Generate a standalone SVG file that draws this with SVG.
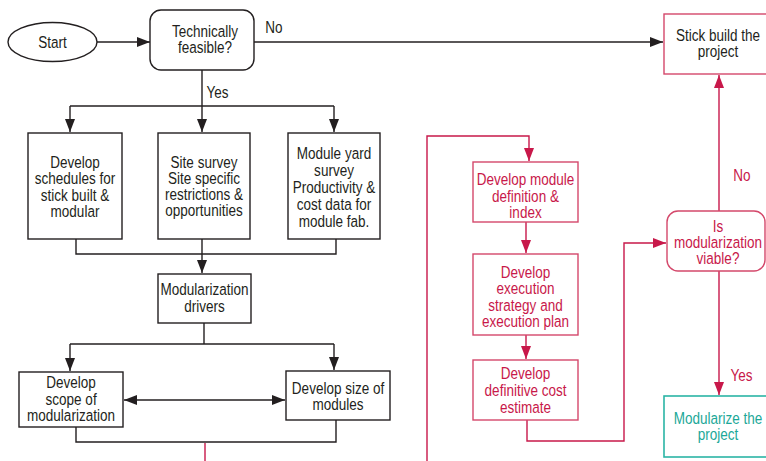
<svg xmlns="http://www.w3.org/2000/svg" width="766" height="461" viewBox="0 0 766 461">
<defs>
<style>
text{font-family:"Liberation Sans Narrow","Liberation Sans",Arial,sans-serif;font-size:16.5px;text-anchor:middle;transform-box:fill-box;transform-origin:center;transform:scaleX(0.82);}
.k{fill:#231f20;}
.r{fill:#c8184a;}
.t{fill:#1ba898;}
.bk{fill:#fff;stroke:#231f20;stroke-width:1.4;}
.br{fill:#fff;stroke:#d4486b;stroke-width:1.4;}
.bt{fill:#fff;stroke:#2bb5a5;stroke-width:1.6;}
.lk{fill:none;stroke:#231f20;stroke-width:1.4;}
.lr{fill:none;stroke:#c8184a;stroke-width:1.4;}
</style>
<marker id="ak" viewBox="0 0 13 10" refX="13" refY="5" markerWidth="13" markerHeight="10" markerUnits="userSpaceOnUse" orient="auto-start-reverse"><path d="M0,0L13,5L0,10z" fill="#231f20"/></marker>
<marker id="ar" viewBox="0 0 13 10" refX="13" refY="5" markerWidth="13" markerHeight="10" markerUnits="userSpaceOnUse" orient="auto"><path d="M0,0L13,5L0,10z" fill="#c8184a"/></marker>
</defs>
<rect width="766" height="461" fill="#fff"/>

<g id="connectors">
<path class="lk" d="M97,42H150" marker-end="url(#ak)"/>
<path class="lk" d="M254,42H663" marker-end="url(#ak)"/>
<path class="lk" d="M202,70V106"/>
<path class="lk" d="M70,106H334"/>
<path class="lk" d="M70,106V132" marker-end="url(#ak)"/>
<path class="lk" d="M202,106V132" marker-end="url(#ak)"/>
<path class="lk" d="M334,106V132" marker-end="url(#ak)"/>
<path class="lk" d="M76,239V254H336V239"/>
<path class="lk" d="M202,239V273" marker-end="url(#ak)"/>
<path class="lk" d="M204,323V344"/>
<path class="lk" d="M70,344H334"/>
<path class="lk" d="M70,344V371" marker-end="url(#ak)"/>
<path class="lk" d="M334,344V370" marker-end="url(#ak)"/>
<path class="lk" d="M124,400H285" marker-start="url(#ak)" marker-end="url(#ak)"/>
<path class="lk" d="M76,427V442H336V420"/>
<path class="lr" d="M205,443V461"/>
<path class="lr" d="M427,461V136H529V161" marker-end="url(#ar)"/>
<path class="lr" d="M526,222V253" marker-end="url(#ar)"/>
<path class="lr" d="M526,335V359" marker-end="url(#ar)"/>
<path class="lr" d="M527,420V441H624V243H666" marker-end="url(#ar)"/>
<path class="lr" d="M719,211V75" marker-end="url(#ar)"/>
<path class="lr" d="M719,271V395" marker-end="url(#ar)"/>
<text class="k" x="274" y="33">No</text>
<text class="k" x="217.5" y="98">Yes</text>
<text class="r" x="742" y="181">No</text>
<text class="r" x="741.5" y="381">Yes</text>
</g>

<g id="start">
<ellipse class="bk" cx="52.5" cy="42" rx="44.5" ry="19.5"/>
<text class="k" x="52.5" y="48">Start</text>
</g>

<g id="feasible">
<rect class="bk" x="150" y="10" width="104" height="60" rx="11"/>
<text class="k" x="205" y="37">Technically</text>
<text class="k" x="205" y="53">feasible?</text>
</g>

<g id="stick">
<rect class="br" x="664" y="14" width="107" height="60"/>
<text class="k" x="718" y="41">Stick build the</text>
<text class="k" x="718" y="57">project</text>
</g>

<g id="schedules">
<rect class="bk" x="28" y="133" width="94" height="106"/>
<text class="k" x="75" y="168">Develop</text>
<text class="k" x="75" y="184.5">schedules for</text>
<text class="k" x="75" y="201">stick built &amp;</text>
<text class="k" x="75" y="217">modular</text>
</g>

<g id="site">
<rect class="bk" x="158" y="133" width="92" height="106"/>
<text class="k" x="204" y="168">Site survey</text>
<text class="k" x="204" y="184">Site specific</text>
<text class="k" x="204" y="200">restrictions &amp;</text>
<text class="k" x="204" y="216">opportunities</text>
</g>

<g id="yard">
<rect class="bk" x="288" y="133" width="92" height="106"/>
<text class="k" x="334" y="159">Module yard</text>
<text class="k" x="334" y="176">survey</text>
<text class="k" x="334" y="193">Productivity &amp;</text>
<text class="k" x="334" y="210">cost data for</text>
<text class="k" x="334" y="227">module fab.</text>
</g>

<g id="drivers">
<rect class="bk" x="158" y="274" width="93" height="49"/>
<text class="k" x="204.5" y="295">Modularization</text>
<text class="k" x="204.5" y="312">drivers</text>
</g>

<g id="scope">
<rect class="bk" x="19" y="372" width="104" height="55"/>
<text class="k" x="71" y="388">Develop</text>
<text class="k" x="71" y="405">scope of</text>
<text class="k" x="71" y="421">modularization</text>
</g>

<g id="size">
<rect class="bk" x="286" y="371" width="104" height="49"/>
<text class="k" x="338" y="394">Develop size of</text>
<text class="k" x="338" y="410">modules</text>
</g>

<g id="definition">
<rect class="br" x="473" y="162" width="105" height="60"/>
<text class="r" x="525.5" y="185">Develop module</text>
<text class="r" x="525.5" y="202">definition &amp;</text>
<text class="r" x="525.5" y="218">index</text>
</g>

<g id="strategy">
<rect class="br" x="473" y="254" width="105" height="81"/>
<text class="r" x="525.5" y="278">Develop</text>
<text class="r" x="525.5" y="294.5">execution</text>
<text class="r" x="525.5" y="311">strategy and</text>
<text class="r" x="525.5" y="327">execution plan</text>
</g>

<g id="cost">
<rect class="br" x="473" y="360" width="105" height="60"/>
<text class="r" x="525.5" y="379">Develop</text>
<text class="r" x="525.5" y="396">definitive cost</text>
<text class="r" x="525.5" y="413">estimate</text>
</g>

<g id="viable">
<rect class="br" x="667" y="211" width="98" height="60" rx="11"/>
<text class="r" x="718" y="232">Is</text>
<text class="r" x="718" y="248">modularization</text>
<text class="r" x="718" y="264">viable?</text>
</g>

<g id="modularize">
<rect class="bt" x="664" y="396" width="107" height="61"/>
<text class="t" x="718" y="424">Modularize the</text>
<text class="t" x="718" y="440">project</text>
</g>
</svg>
